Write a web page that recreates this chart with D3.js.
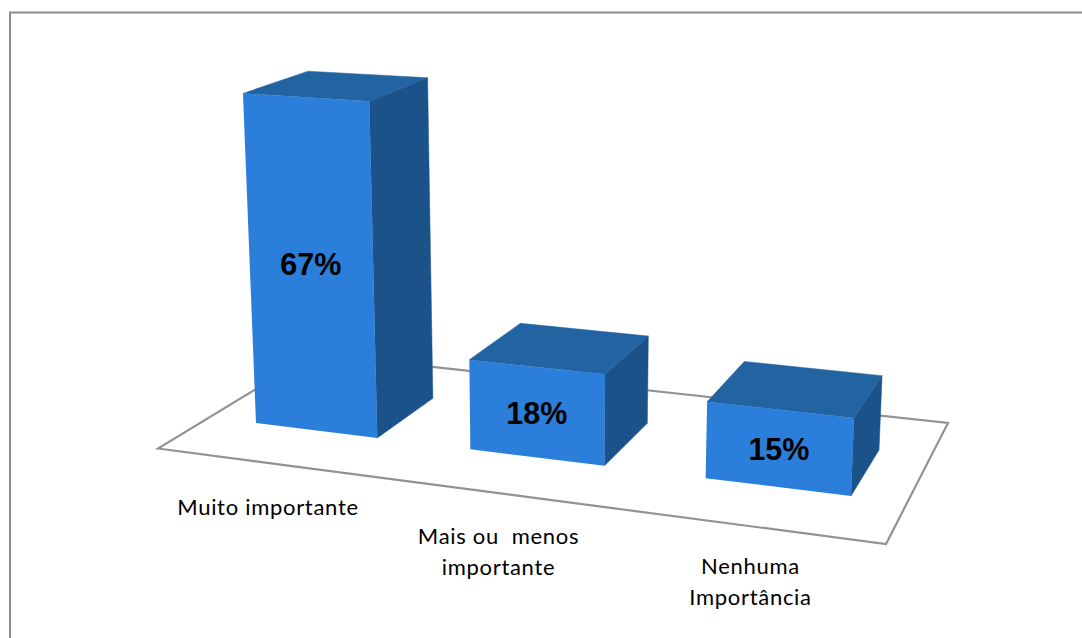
<!DOCTYPE html>
<html><head><meta charset="utf-8">
<script src="https://cdn.jsdelivr.net/npm/d3@7/dist/d3.min.js"></script>
<style>html,body{margin:0;padding:0;background:#fff}svg{display:block}</style>
</head><body>
<svg id="c" width="1082" height="638"></svg>
<script>
const categories = ["Muito importante", "Mais ou  menos|importante", "Nenhuma|Importância"];
const values = [67, 18, 15];
const valueLabels = ["67%", "18%", "15%"];

const svg = d3.select("#c");
const W = 1082, H = 638;

// homography from unit floor square to screen
function homography(p00, p10, p11, p01) {
  const [x0,y0]=p00,[x1,y1]=p10,[x2,y2]=p11,[x3,y3]=p01;
  const dx1=x1-x2,dx2=x3-x2,sx=x0-x1+x2-x3,dy1=y1-y2,dy2=y3-y2,sy=y0-y1+y2-y3;
  const det=dx1*dy2-dx2*dy1;
  const g=(sx*dy2-dx2*sy)/det,h=(dx1*sy-sx*dy1)/det;
  const a=x1-x0+g*x1,b=x3-x0+h*x3,d=y1-y0+g*y1,e=y3-y0+h*y3;
  return (u,v)=>{const w=g*u+h*v+1;return [(a*u+b*v+x0)/w,(d*u+e*v+y0)/w];};
}
const floorPlane = homography([256,423],[851,496],[879,450],[318,385]);
const u = d3.scaleBand().domain(categories).range([0,1]).paddingInner(0.42);
const warp = d3.scalePow().exponent(1.02).domain([0,1]).range([0,1]);
const rise = d3.scaleLinear().domain([0,100]).range([0,497]);

function project(uu, uc, vv, val) {
  const [bx,by] = floorPlane(warp(uu), vv);
  const h = rise(val) * (1 + 0.045*uc*uc) * (1 + 0.095*(uu-uc)) * (1 - 0.048*vv);
  return [bx + (bx-560)*0.00013*h, by - h];
}
const line = d3.line().curve(d3.curveLinearClosed);

// frame: only top and left edges are visible
svg.append("path").attr("d", `M10,${H}V12.5H${W}`).attr("fill","none").attr("stroke","#8c8c8c").attr("stroke-width",2);

// floor
svg.append("path").attr("d", line([[158,448.5],[886,544],[948,423],[313.6,354]]))
  .attr("fill","none").attr("stroke","#929292").attr("stroke-width",2.2);

const bars = svg.selectAll("g.bar").data(categories).join("g").attr("class","bar");
bars.each(function(c,i){
  const g=d3.select(this), u0=u(c), u1=u0+u.bandwidth(), uc=(u0+u1)/2, val=values[i];
  const P=(a,b,t)=>project(a,uc,b,t);
  g.append("path").attr("d",line([P(u1,0,0),P(u1,1,0),P(u1,1,val),P(u1,0,val)])).attr("fill","#1b5289").attr("stroke","#1b5289").attr("stroke-width",0.5);
  g.append("path").attr("d",line([P(u0,0,val),P(u1,0,val),P(u1,1,val),P(u0,1,val)])).attr("fill","#2263a2").attr("stroke","#2263a2").attr("stroke-width",0.5);
  g.append("path").attr("d",line([P(u0,0,0),P(u1,0,0),P(u1,0,val),P(u0,0,val)])).attr("fill","#2b7ed9");
  const a=P(u0,0,0),b=P(u1,0,0),e=P(u1,0,val),f=P(u0,0,val);
  g.append("text").attr("x",(a[0]+b[0]+e[0]+f[0])/4-0.5).attr("y",(a[1]+b[1]+e[1]+f[1])/4+11.5)
    .attr("text-anchor","middle").attr("font-family","'Liberation Sans'").attr("font-weight","bold")
    .attr("font-size",30.5).attr("fill","#000").text(valueLabels[i]);
});

// category labels
const labelX = d3.scaleOrdinal().domain(categories).range([268,498.5,750.5]);
const labelY = d3.scaleOrdinal().domain(categories).range([515,544,574]);
categories.forEach(c=>{
  c.split("|").forEach((t,j)=>{
    svg.append("text").attr("x",labelX(c)).attr("y",labelY(c)+j*30.5)
      .attr("text-anchor","middle").attr("font-family","Lato").attr("font-size",22)
      .attr("letter-spacing",0.7).attr("fill","#000").style("white-space","pre").text(t);
  });
});
</script>
</body></html>
